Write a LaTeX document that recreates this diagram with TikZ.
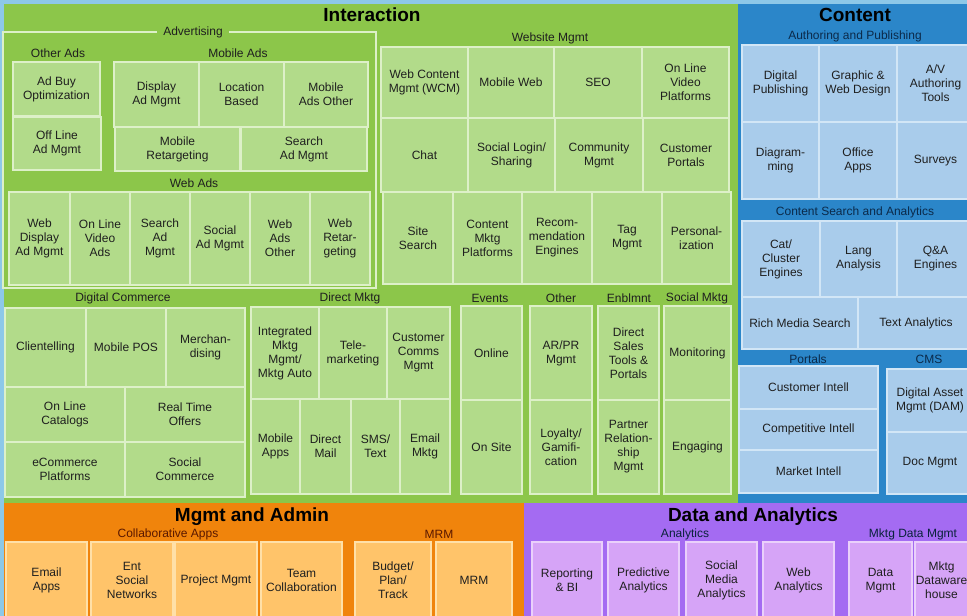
\documentclass[tikz,border=0pt]{standalone}
\usepackage{fontspec}
\setmainfont{Liberation Sans}
\usetikzlibrary{fit}

% colours of the four areas and their tiles
\definecolor{frameblue}{HTML}{8DC8E8}
\definecolor{intgreen}{HTML}{8CC64A}
\definecolor{gfill}{HTML}{B2DB8A}
\definecolor{gline}{HTML}{DDF0C8}
\definecolor{conblue}{HTML}{2B86C9}
\definecolor{cfill}{HTML}{A9CCEB}
\definecolor{cline}{HTML}{D2E6F6}
\definecolor{mgmtorange}{HTML}{F0840C}
\definecolor{ofill}{HTML}{FFC46A}
\definecolor{oline}{HTML}{FFE0A8}
\definecolor{datapurple}{HTML}{A46BF2}
\definecolor{pfill}{HTML}{D6A4F7}
\definecolor{pline}{HTML}{EAD0FB}
\definecolor{navy}{HTML}{0B2A4A}
\definecolor{brown}{HTML}{5A1800}

\tikzset{
  tile/.style={draw, line width=1.3pt, inner sep=0pt},
  tiletext/.style={inner sep=0pt, align=center, text=black!88,
    font=\fontsize{12}{14}\selectfont},
  gtile/.style={tile, fill=gfill, draw=gline},
  ctile/.style={tile, fill=cfill, draw=cline},
  otile/.style={tile, fill=ofill, draw=oline},
  ptile/.style={tile, fill=pfill, draw=pline},
  grouplabel/.style={inner sep=1pt, text=black!88, font=\fontsize{12}{14}\selectfont},
  areatitle/.style={inner sep=1pt, text=black, font=\fontsize{19}{22}\selectfont\bfseries}
}

% \tile[style]{name}{x1,y1}{x2,y2}{text}
\newcommand{\tile}[5][gtile]{%
  \node[#1, fit={(#3) (#4)}, label={[tiletext]center:#5}] (#2) {};}

\begin{document}
\begin{tikzpicture}[x=1pt, y=-1pt]
\useasboundingbox (0,0) rectangle (967,616);
\fill [frameblue] (0,0) rectangle (967,616);

% areas
\fill [intgreen] (4,4) rectangle (738,503);
\fill [conblue] (738,4) rectangle (967,503);
\fill [mgmtorange] (4,503) rectangle (524,616);
\fill [datapurple] (524,503) rectangle (967,616);

%---------------- Interaction
\node [areatitle] (interaction) at (372,15) {Interaction};

\draw [gline, line width=1.2pt] (3,32) rectangle (376,288); % advertising frame
\node [grouplabel, fill=intgreen, inner xsep=6pt] (advertising) at (193,32) {Advertising};

\node [grouplabel] (otherads) at (58,53) {Other Ads};
\tile{adbuy}{13,62}{100,116}{Ad Buy\\Optimization}
\tile{offline}{13,117}{101,170}{Off Line\\Ad Mgmt}

\node [grouplabel] (mobileads) at (238,53) {Mobile Ads};
\tile{display}{114,62}{199,127}{Display\\Ad Mgmt}
\tile{location}{199,62}{284,127}{Location\\Based}
\tile{mobother}{284,62}{368,127}{Mobile\\Ads Other}
\tile{mobretarget}{115,127}{240,171}{Mobile\\Retargeting}
\tile{searchad}{241,127}{367,171}{Search\\Ad Mgmt}

\node [grouplabel] (webads) at (194,183) {Web Ads};
\tile{webdisplay}{9,192}{70,285}{Web\\Display\\Ad Mgmt}
\tile{videoads}{70,192}{130,285}{On Line\\Video\\Ads}
\tile{websearch}{130,192}{190,285}{Search\\Ad\\Mgmt}
\tile{socialad}{190,192}{250,285}{Social\\Ad Mgmt}
\tile{webother}{250,192}{310,285}{Web\\Ads\\Other}
\tile{webretarget}{310,192}{370,285}{Web\\Retar-\\geting}

\node [grouplabel] (websitemgmt) at (550,38) {Website Mgmt};
\tile{wcm}{381,47}{468,118}{Web Content\\Mgmt (WCM)}
\tile{mobweb}{468,47}{554,118}{Mobile Web}
\tile{seo}{554,47}{642,118}{SEO}
\tile{videoplat}{642,47}{729,118}{On Line\\Video\\Platforms}
\tile{chat}{381,118}{468,192}{Chat}
\tile{sociallogin}{468,118}{555,192}{Social Login/\\Sharing}
\tile{community}{555,118}{643,192}{Community\\Mgmt}
\tile{custportal}{643,118}{729,192}{Customer\\Portals}
\tile{sitesearch}{383,192}{453,284}{Site\\Search}
\tile{contentmktg}{453,192}{522,284}{Content\\Mktg\\Platforms}
\tile{recommend}{522,192}{592,284}{Recom-\\mendation\\Engines}
\tile{tagmgmt}{592,192}{662,284}{Tag\\Mgmt}
\tile{personal}{662,192}{731,284}{Personal-\\ization}

\node [grouplabel] (digcommerce) at (123,298) {Digital Commerce};
\tile{clientelling}{5,308}{86,387}{Clientelling}
\tile{mobilepos}{86,308}{166,387}{Mobile POS}
\tile{merch}{166,308}{245,387}{Merchan-\\dising}
\tile{catalogs}{5,387}{125,442}{On Line\\Catalogs}
\tile{realtime}{125,387}{245,442}{Real Time\\Offers}
\tile{ecommerce}{5,442}{125,497}{eCommerce\\Platforms}
\tile{socialcommerce}{125,442}{245,497}{Social\\Commerce}

\node [grouplabel] (directmktg) at (350,298) {Direct Mktg};
\tile{integrated}{251,307}{319,399}{Integrated\\Mktg\\Mgmt/\\Mktg Auto}
\tile{telemktg}{319,307}{387,399}{Tele-\\marketing}
\tile{custcomms}{387,307}{450,399}{Customer\\Comms\\Mgmt}
\tile{mobapps}{251,399}{300,494}{Mobile\\Apps}
\tile{directmail}{300,399}{351,494}{Direct\\Mail}
\tile{sms}{351,399}{400,494}{SMS/\\Text}
\tile{emailmktg}{400,399}{450,494}{Email\\Mktg}

\node [grouplabel] (events) at (490,298) {Events};
\tile{online}{461,306}{522,400}{Online}
\tile{onsite}{461,400}{522,494}{On Site}

\node [grouplabel] (other) at (561,298) {Other};
\tile{arpr}{530,306}{592,400}{AR/PR\\Mgmt}
\tile{loyalty}{530,400}{592,494}{Loyalty/\\Gamifi-\\cation}

\node [grouplabel] (enblmnt) at (629,298) {Enblmnt};
\tile{dsales}{598,306}{659,400}{Direct\\Sales\\Tools \&\\Portals}
\tile{partner}{598,400}{659,494}{Partner\\Relation-\\ship\\Mgmt}

\node [grouplabel] (socialmktg) at (697,298) {Social Mktg};
\tile{monitoring}{664,306}{731,400}{Monitoring}
\tile{engaging}{664,400}{731,494}{Engaging}

%---------------- Content
\node [areatitle] (content) at (855,15) {Content};

\node [grouplabel, text=navy] (authoring) at (855,36) {Authoring and Publishing};
\tile[ctile]{digpub}{742,45}{819,122}{Digital\\Publishing}
\tile[ctile]{graphic}{819,45}{897,122}{Graphic \&\\Web Design}
\tile[ctile]{avtools}{897,45}{974,122}{A/V\\Authoring\\Tools}
\tile[ctile]{diagram}{742,122}{819,199}{Diagram-\\ming}
\tile[ctile]{office}{819,122}{897,199}{Office\\Apps}
\tile[ctile]{surveys}{897,122}{974,199}{Surveys}

\node [grouplabel, text=navy] (consearch) at (855,212) {Content Search and Analytics};
\tile[ctile]{catcluster}{742,221}{820,297}{Cat/\\Cluster\\Engines}
\tile[ctile]{lang}{820,221}{897,297}{Lang\\Analysis}
\tile[ctile]{qa}{897,221}{974,297}{Q\&A\\Engines}
\tile[ctile]{richmedia}{742,297}{858,349}{Rich Media Search}
\tile[ctile]{textanalytics}{858,297}{974,349}{Text Analytics}

\node [grouplabel, text=navy] (portals) at (808,359) {Portals};
\tile[ctile]{custintell}{739,366}{878,409}{Customer Intell}
\tile[ctile]{compintell}{739,409}{878,450}{Competitive Intell}
\tile[ctile]{mktintell}{739,450}{878,493}{Market Intell}

\node [grouplabel, text=navy] (cms) at (929,359) {CMS};
\tile[ctile]{dam}{887,369}{973,432}{Digital Asset\\Mgmt (DAM)}
\tile[ctile]{docmgmt}{887,432}{973,494}{Doc Mgmt}

%---------------- Mgmt and Admin
\node [areatitle] (mgmtadmin) at (252,517) {Mgmt and Admin};

\node [grouplabel, text=brown] (collab) at (168,534) {Collaborative Apps};
\tile[otile]{emailapps}{6,542}{87,619}{Email\\Apps}
\tile[otile]{entsocial}{91,542}{173,619}{Ent\\Social\\Networks}
\tile[otile]{projmgmt}{175,542}{257,619}{Project Mgmt}
\tile[otile]{teamcollab}{261,542}{342,619}{Team\\Collaboration}

\node [grouplabel, text=brown] (mrmlabel) at (439,534) {MRM};
\tile[otile]{budget}{355,542}{431,619}{Budget/\\Plan/\\Track}
\tile[otile]{mrm}{436,542}{512,619}{MRM}

%---------------- Data and Analytics
\node [areatitle] (dataanalytics) at (753,517) {Data and Analytics};

\node [grouplabel, text=navy!80!black] (analytics) at (685,534) {Analytics};
\tile[ptile]{reporting}{532,542}{602,619}{Reporting\\\& BI}
\tile[ptile]{predictive}{608,542}{679,619}{Predictive\\Analytics}
\tile[ptile]{socialmedia}{686,542}{757,619}{Social\\Media\\Analytics}
\tile[ptile]{webanalytics}{763,542}{834,619}{Web\\Analytics}

\node [grouplabel, text=navy!80!black] (mktgdata) at (913,534) {Mktg Data Mgmt};
\tile[ptile]{datamgmt}{849,542}{912,619}{Data\\Mgmt}
\tile[ptile]{dataware}{915,542}{968,619}{Mktg\\Dataware\\house}

\end{tikzpicture}
\end{document}
